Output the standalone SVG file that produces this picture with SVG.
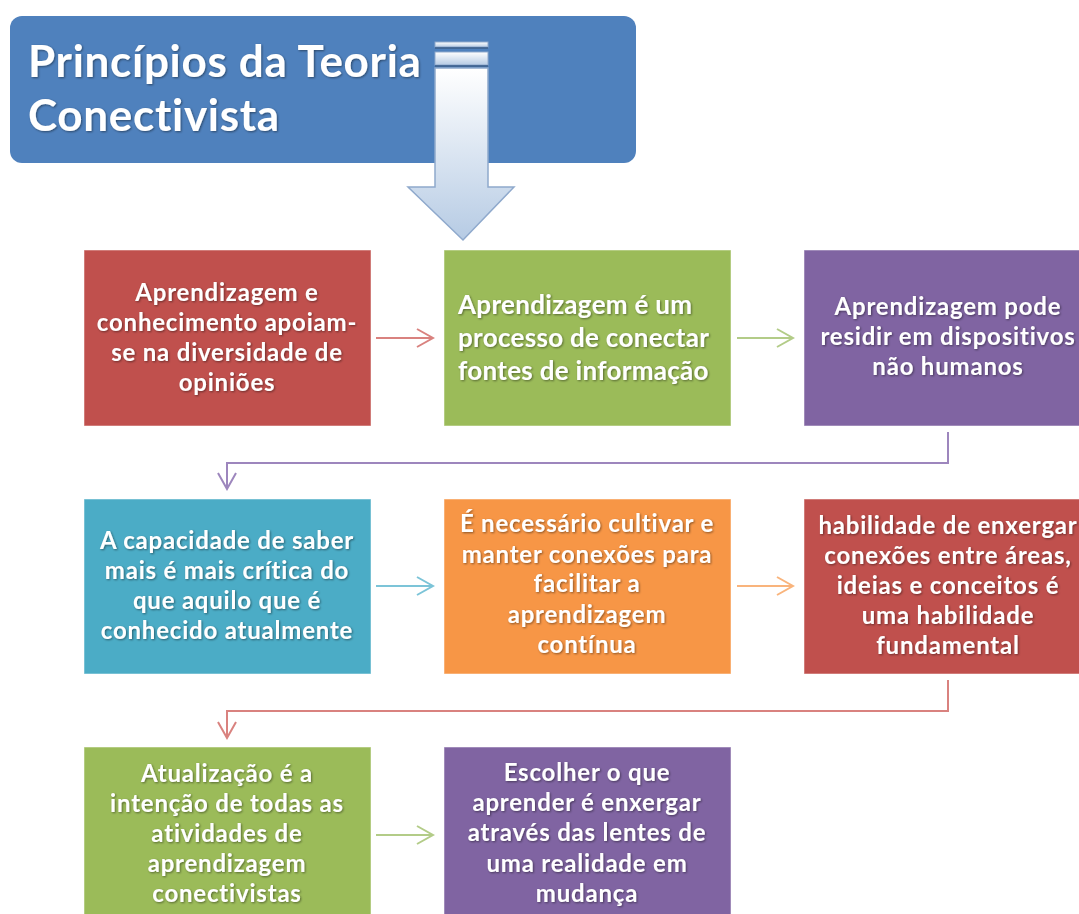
<svg xmlns="http://www.w3.org/2000/svg" width="1079" height="914" viewBox="0 0 1079 914">
<defs>
<style>
.t{font-family:Lato,"Liberation Sans",sans-serif;font-weight:bold;font-size:24px;letter-spacing:0.8px;fill:#fff;text-anchor:middle}
.tl{font-family:Lato,"Liberation Sans",sans-serif;font-weight:bold;font-size:26px;letter-spacing:0.3px;fill:#fff}
.title{font-family:Lato,"Liberation Sans",sans-serif;font-weight:bold;font-size:44px;letter-spacing:0.7px;fill:#fff}
.box{stroke:#fff;stroke-opacity:0.5;stroke-width:1}
.c{fill:none;stroke-width:2}
</style>
<filter id="sh" x="-10%" y="-10%" width="120%" height="130%">
<feDropShadow dx="1" dy="1" stdDeviation="0.8" flood-color="#000" flood-opacity="0.45"/>
</filter>
<linearGradient id="ag" x1="0" y1="0" x2="0" y2="1">
<stop offset="0" stop-color="#ffffff"/>
<stop offset="1" stop-color="#b6cbe4"/>
</linearGradient>
<marker id="mr" viewBox="0 0 20 20" refX="18" refY="10" markerWidth="20" markerHeight="20" markerUnits="userSpaceOnUse" orient="auto"><path d="M2 1 L18 10 L2 19" fill="none" stroke="#d9827f" stroke-width="2"/></marker>
<marker id="mg" viewBox="0 0 20 20" refX="18" refY="10" markerWidth="20" markerHeight="20" markerUnits="userSpaceOnUse" orient="auto"><path d="M2 1 L18 10 L2 19" fill="none" stroke="#b3cc88" stroke-width="2"/></marker>
<marker id="mp" viewBox="0 0 20 20" refX="18" refY="10" markerWidth="20" markerHeight="20" markerUnits="userSpaceOnUse" orient="auto"><path d="M2 1 L18 10 L2 19" fill="none" stroke="#9d86bd" stroke-width="2"/></marker>
<marker id="mc" viewBox="0 0 20 20" refX="18" refY="10" markerWidth="20" markerHeight="20" markerUnits="userSpaceOnUse" orient="auto"><path d="M2 1 L18 10 L2 19" fill="none" stroke="#7cc4d8" stroke-width="2"/></marker>
<marker id="mo" viewBox="0 0 20 20" refX="18" refY="10" markerWidth="20" markerHeight="20" markerUnits="userSpaceOnUse" orient="auto"><path d="M2 1 L18 10 L2 19" fill="none" stroke="#f9b47c" stroke-width="2"/></marker>
</defs>
<rect width="1079" height="914" fill="#fff"/>

<g id="title">
<rect x="10" y="16" width="626" height="147" rx="12" fill="#4f81bd"/>
<text class="title" filter="url(#sh)" x="28" y="77">Princípios da Teoria</text>
<text class="title" filter="url(#sh)" x="28" y="131">Conectivista</text>
</g>

<g id="big-arrow">
<rect x="435" y="42" width="53" height="5" fill="url(#ag)" stroke="#8fa9cc" stroke-width="1"/>
<line x1="435" y1="48" x2="488" y2="48" stroke="#3d5f8a" stroke-width="1.5"/>
<rect x="435" y="52" width="53" height="13" fill="url(#ag)" stroke="#8fa9cc" stroke-width="1"/>
<line x1="435" y1="66" x2="488" y2="66" stroke="#3d5f8a" stroke-width="1.5"/>
<path d="M435 68 H488 V187 H514 L463 240 L408 187 H435 Z" fill="url(#ag)" stroke="#8fa9cc" stroke-width="1.5"/>
</g>

<g id="connectors">
<line class="c" x1="376" y1="338" x2="433" y2="338" stroke="#d9827f" marker-end="url(#mr)"/>
<line class="c" x1="737" y1="338" x2="793" y2="338" stroke="#b3cc88" marker-end="url(#mg)"/>
<path class="c" d="M948 432 V463 H227 V489" stroke="#9d86bd" marker-end="url(#mp)"/>
<line class="c" x1="376" y1="586" x2="433" y2="586" stroke="#7cc4d8" marker-end="url(#mc)"/>
<line class="c" x1="737" y1="586" x2="793" y2="586" stroke="#f9b47c" marker-end="url(#mo)"/>
<path class="c" d="M948 680 V711 H227 V738" stroke="#d9827f" marker-end="url(#mr)"/>
<line class="c" x1="376" y1="835" x2="433" y2="835" stroke="#b3cc88" marker-end="url(#mg)"/>
</g>

<g id="n1">
<rect class="box" x="84" y="250" width="287" height="176" fill="#c0504d"/>
<g class="t" filter="url(#sh)">
<text x="227" y="301">Aprendizagem e</text>
<text x="227" y="331">conhecimento apoiam-</text>
<text x="227" y="361">se na diversidade de</text>
<text x="227" y="391">opiniões</text>
</g>
</g>

<g id="n2">
<rect class="box" x="444" y="250" width="287" height="176" fill="#9bbb59"/>
<g class="tl" filter="url(#sh)">
<text x="458" y="314">Aprendizagem é um</text>
<text x="458" y="347">processo de conectar</text>
<text x="458" y="380">fontes de informação</text>
</g>
</g>

<g id="n3">
<rect class="box" x="804" y="250" width="287" height="176" fill="#8064a2"/>
<g class="t" filter="url(#sh)">
<text x="948" y="315">Aprendizagem pode</text>
<text x="948" y="345">residir em dispositivos</text>
<text x="948" y="375">não humanos</text>
</g>
</g>

<g id="n4">
<rect class="box" x="84" y="499" width="287" height="175" fill="#4bacc6"/>
<g class="t" filter="url(#sh)">
<text x="227" y="549">A capacidade de saber</text>
<text x="227" y="579">mais é mais crítica do</text>
<text x="227" y="609">que aquilo que é</text>
<text x="227" y="639">conhecido atualmente</text>
</g>
</g>

<g id="n5">
<rect class="box" x="444" y="499" width="287" height="175" fill="#f79646"/>
<g class="t" filter="url(#sh)">
<text x="587" y="532">É necessário cultivar e</text>
<text x="587" y="563">manter conexões para</text>
<text x="587" y="592">facilitar a</text>
<text x="587" y="623">aprendizagem</text>
<text x="587" y="653">contínua</text>
</g>
</g>

<g id="n6">
<rect class="box" x="804" y="499" width="287" height="175" fill="#c0504d"/>
<g class="t" filter="url(#sh)">
<text x="948" y="534">habilidade de enxergar</text>
<text x="948" y="564">conexões entre áreas,</text>
<text x="948" y="594">ideias e conceitos é</text>
<text x="948" y="624">uma habilidade</text>
<text x="948" y="654">fundamental</text>
</g>
</g>

<g id="n7">
<rect class="box" x="84" y="747" width="287" height="176" fill="#9bbb59"/>
<g class="t" filter="url(#sh)">
<text x="227" y="782">Atualização é a</text>
<text x="227" y="812">intenção de todas as</text>
<text x="227" y="842">atividades de</text>
<text x="227" y="872">aprendizagem</text>
<text x="227" y="902">conectivistas</text>
</g>
</g>

<g id="n8">
<rect class="box" x="444" y="747" width="287" height="176" fill="#8064a2"/>
<g class="t" filter="url(#sh)">
<text x="587" y="781">Escolher o que</text>
<text x="587" y="811">aprender é enxergar</text>
<text x="587" y="841">através das lentes de</text>
<text x="587" y="872">uma realidade em</text>
<text x="587" y="902">mudança</text>
</g>
</g>
</svg>
